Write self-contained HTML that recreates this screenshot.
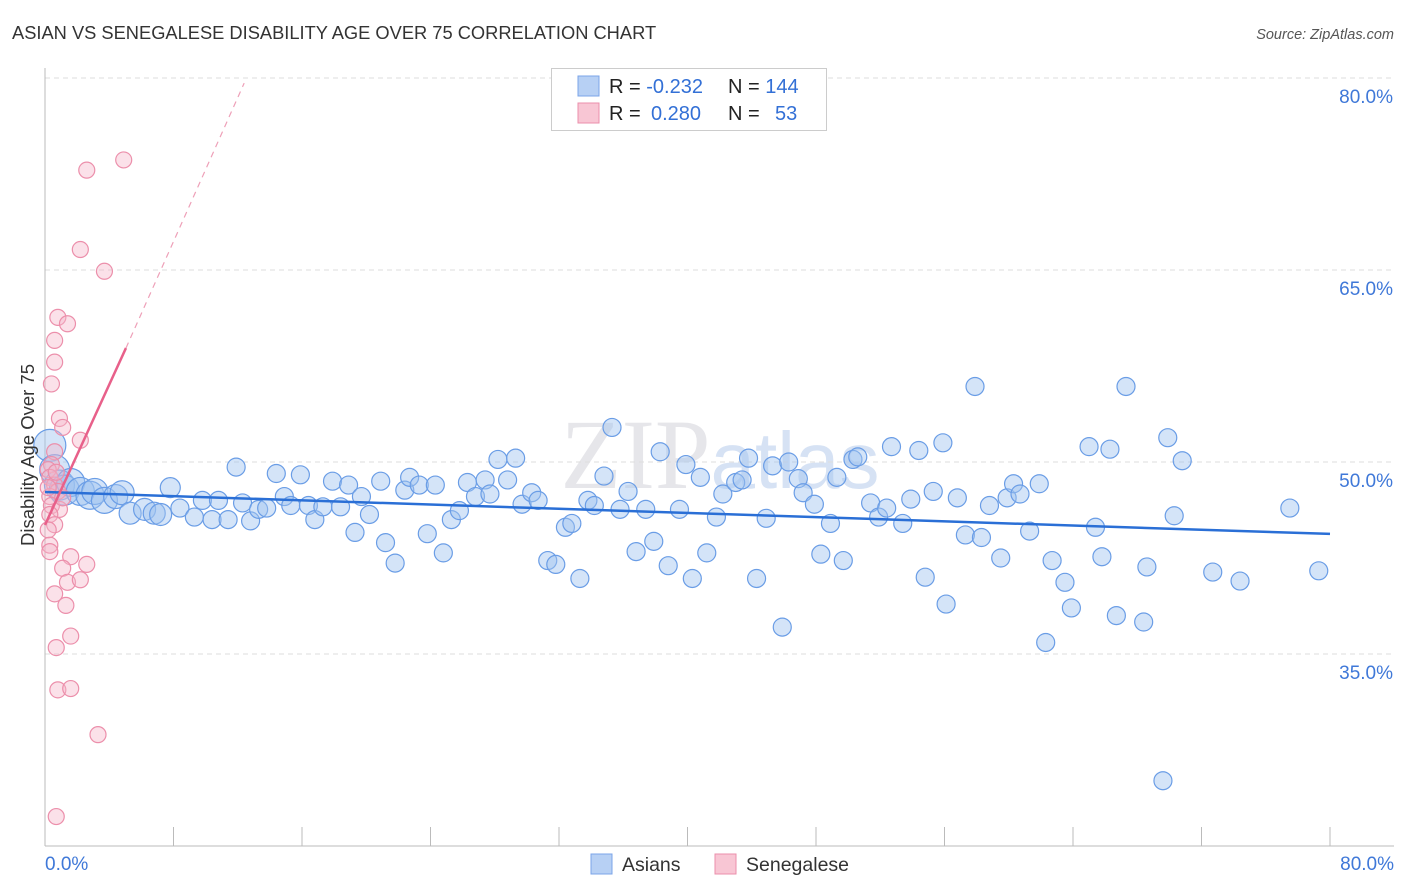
<!DOCTYPE html>
<html><head><meta charset="utf-8"><style>
body{margin:0;background:#fff;font-family:"Liberation Sans",sans-serif}
#c{position:absolute;left:0;top:0}
</style></head><body>
<svg id="c" width="1406" height="892">
<text x="12" y="39" font-size="18.3" fill="#333">ASIAN VS SENEGALESE DISABILITY AGE OVER 75 CORRELATION CHART</text>
<text x="1394" y="39" font-size="14.5" fill="#555" font-style="italic" text-anchor="end">Source: ZipAtlas.com</text>
<text x="720" y="488" font-size="100" fill="#e6e6ea" text-anchor="middle" font-family="Liberation Serif">ZIP<tspan fill="#d6e2f4" font-family="Liberation Sans" font-size="80">atlas</tspan></text>
<g id="grid"></g><g id="axes"></g><g id="pts"></g><g id="trend"></g>
<text transform="translate(34,455) rotate(-90)" font-size="18.5" fill="#333" text-anchor="middle">Disability Age Over 75</text>
<g>
<rect x="551.5" y="68.5" width="275" height="62" fill="#fff" stroke="#ccc"/>
<rect x="578" y="76" width="21" height="20" fill="#b7d0f4" stroke="#7ba4e8"/>
<rect x="578" y="103" width="21" height="20" fill="#f8c6d4" stroke="#eb8fab"/>
<text x="609" y="93" font-size="20" fill="#222">R = <tspan fill="#3370d6">-0.232</tspan><tspan x="728">N = </tspan><tspan fill="#3370d6">144</tspan></text>
<text x="609" y="120" font-size="20" fill="#222">R = <tspan x="651" fill="#3370d6">0.280</tspan><tspan x="728">N = </tspan><tspan x="775" fill="#3370d6">53</tspan></text>
</g>
<g>
<rect x="591" y="854" width="21" height="20" fill="#b7d0f4" stroke="#7ba4e8"/>
<text x="622" y="871" font-size="19.5" fill="#333">Asians</text>
<rect x="715" y="854" width="21" height="20" fill="#f8c6d4" stroke="#eb8fab"/>
<text x="746" y="871" font-size="19.5" fill="#333">Senegalese</text>
</g>
</svg>
<script>
const yTicks=[35,50,65,80];
const yTickLabels=["35.0%","50.0%","65.0%","80.0%"];
const xTickCount=10;
const xLabels=["0.0%","80.0%"];
const asianX=[0.3,0.6,0.9,1.2,1.6,2.2,2.8,3.1,3.7,4.4,4.8,5.3,6.2,6.8,7.2,7.8,8.4,9.3,9.8,10.4,10.8,11.4,11.9,12.3,12.8,13.3,13.8,14.4,14.9,15.3,15.9,16.4,16.8,17.3,17.9,18.4,18.9,19.3,19.7,20.2,20.9,21.2,21.8,22.4,22.7,23.3,23.8,24.3,24.8,25.3,25.8,26.3,26.8,27.4,27.7,28.2,28.8,29.3,29.7,30.3,30.7,31.3,31.8,32.4,32.8,33.3,33.8,34.2,34.8,35.3,35.8,36.3,36.8,37.4,37.9,38.3,38.8,39.5,39.9,40.3,40.8,41.2,41.8,42.2,43.0,43.4,43.8,44.3,44.9,45.3,45.9,46.3,46.9,47.2,47.9,48.3,48.9,49.3,49.7,50.3,50.6,51.4,51.9,52.4,52.7,53.4,53.9,54.4,54.8,55.3,55.9,56.1,56.8,57.3,57.9,58.3,58.8,59.5,59.9,60.3,60.7,61.3,61.9,62.3,62.7,63.5,63.9,65.0,65.4,65.8,66.3,66.7,67.3,68.4,68.6,69.9,70.3,70.8,72.7,74.4,77.5,79.3,69.6];
const asianY=[51.3,49.4,48.2,47.8,48.4,47.7,47.4,47.7,47.0,47.3,47.6,46.0,46.3,46.0,45.9,48.0,46.4,45.7,47.0,45.5,47.0,45.5,49.6,46.8,45.4,46.3,46.4,49.1,47.3,46.6,49.0,46.6,45.5,46.5,48.5,46.5,48.2,44.5,47.3,45.9,48.5,43.7,42.1,47.8,48.8,48.2,44.4,48.2,42.9,45.5,46.2,48.4,47.3,48.6,47.5,50.2,48.6,50.3,46.7,47.6,47.0,42.3,42.0,44.9,45.2,40.9,47.0,46.6,48.9,52.7,46.3,47.7,43.0,46.3,43.8,50.8,41.9,46.3,49.8,40.9,48.8,42.9,45.7,47.5,48.4,48.6,50.3,40.9,45.6,49.7,37.1,50.0,48.7,47.6,46.7,42.8,45.2,48.8,42.3,50.2,50.4,46.8,45.7,46.4,51.2,45.2,47.1,50.9,41.0,47.7,51.5,38.9,47.2,44.3,55.9,44.1,46.6,42.5,47.2,48.3,47.5,44.6,48.3,35.9,42.3,40.6,38.6,51.2,44.9,42.6,51.0,38.0,55.9,37.5,41.8,51.9,45.8,50.1,41.4,40.7,46.4,41.5,25.1];
const asianSize=[16,15,15,15,14,14,14,13,13,12,12,11,11,11,11,10];
const senX=[4.9,2.6,2.2,3.7,0.8,1.4,0.6,0.6,0.4,0.9,1.1,2.2,0.6,0.4,0.2,0.3,0.6,0.8,0.3,0.4,0.9,0.3,0.6,0.2,0.3,1.6,2.6,1.1,0.3,1.4,2.2,1.3,0.6,1.6,0.7,0.8,1.6,3.3,0.7,1.1,0.7,0.2];
const senY=[73.6,72.8,66.6,64.9,61.3,60.8,59.5,57.8,56.1,53.4,52.7,51.7,50.8,49.8,49.4,48.8,48.2,47.7,47.3,46.6,46.3,45.9,45.1,44.7,43.5,42.6,42.0,41.7,43.0,40.6,40.8,38.8,39.7,36.4,35.5,32.2,32.3,28.7,22.3,47.2,49.2,48.0];
const blueTrend=[[0,47.66],[80,44.38]];
const pinkTrendSolid=[[0,45.08],[5.04,58.9]];
const pinkTrendDash=[[5.04,58.9],[12.4,79.6]];

const NS="http://www.w3.org/2000/svg";
const X=v=>45+v/80*1285;
const Y=v=>462-(v-50)*12.8;
function mk(tag,attrs,parent){const e=document.createElementNS(NS,tag);for(const k in attrs)e.setAttribute(k,attrs[k]);document.getElementById(parent).appendChild(e);return e;}
yTicks.forEach((t,i)=>{
  const l=mk('line',{x1:45,x2:1394,y1:Y(t),y2:Y(t),stroke:'#ddd','stroke-dasharray':'5,4'},'grid');
  
  
  const tx=mk('text',{x:1393,y:Y(t)+25,'font-size':19,fill:'#3f78d8','text-anchor':'end'},'grid');
  tx.textContent=yTickLabels[i];
  
  
});
const ax=mk('line',{x1:45,x2:45,y1:68,y2:846,stroke:'#bbb'},'axes');


const bx=mk('line',{x1:45,x2:1394,y1:846,y2:846,stroke:'#bbb'},'axes');


for(let i=1;i<=xTickCount;i++){
  const v=i*80/xTickCount;
  const t=mk('line',{x1:X(v),x2:X(v),y1:827,y2:846,stroke:'#bbb'},'axes');
  
  
}
[[0,'start',45],[80,'end',1394]].forEach((d,i)=>{
  const t=mk('text',{x:d[2],y:870,'font-size':19,fill:'#3f78d8','text-anchor':d[1]},'axes');
  t.textContent=xLabels[i];
  
  
});
asianX.forEach((x,i)=>{
  const c=mk('circle',{cx:X(x),cy:Y(asianY[i]),r:asianSize[i]||9,fill:'rgba(160,195,240,0.45)',stroke:'#6a9de6','stroke-width':1.2},'pts');
  
  
});
senX.forEach((x,i)=>{
  const c=mk('circle',{cx:X(x),cy:Y(senY[i]),r:8,fill:'rgba(245,180,200,0.4)',stroke:'#ec8fab','stroke-width':1.2},'pts');
  
  
});
const bl=mk('line',{x1:X(blueTrend[0][0]),y1:Y(blueTrend[0][1]),x2:X(blueTrend[1][0]),y2:Y(blueTrend[1][1]),stroke:'#2a6fd6','stroke-width':2.5},'trend');


const pl=mk('line',{x1:X(pinkTrendSolid[0][0]),y1:Y(pinkTrendSolid[0][1]),x2:X(pinkTrendSolid[1][0]),y2:Y(pinkTrendSolid[1][1]),stroke:'#e8608a','stroke-width':2.5},'trend');


const pd=mk('line',{x1:X(pinkTrendDash[0][0]),y1:Y(pinkTrendDash[0][1]),x2:X(pinkTrendDash[1][0]),y2:Y(pinkTrendDash[1][1]),stroke:'#eea0b8','stroke-width':1.2,'stroke-dasharray':'6,5'},'trend');


</script>
</body></html>
